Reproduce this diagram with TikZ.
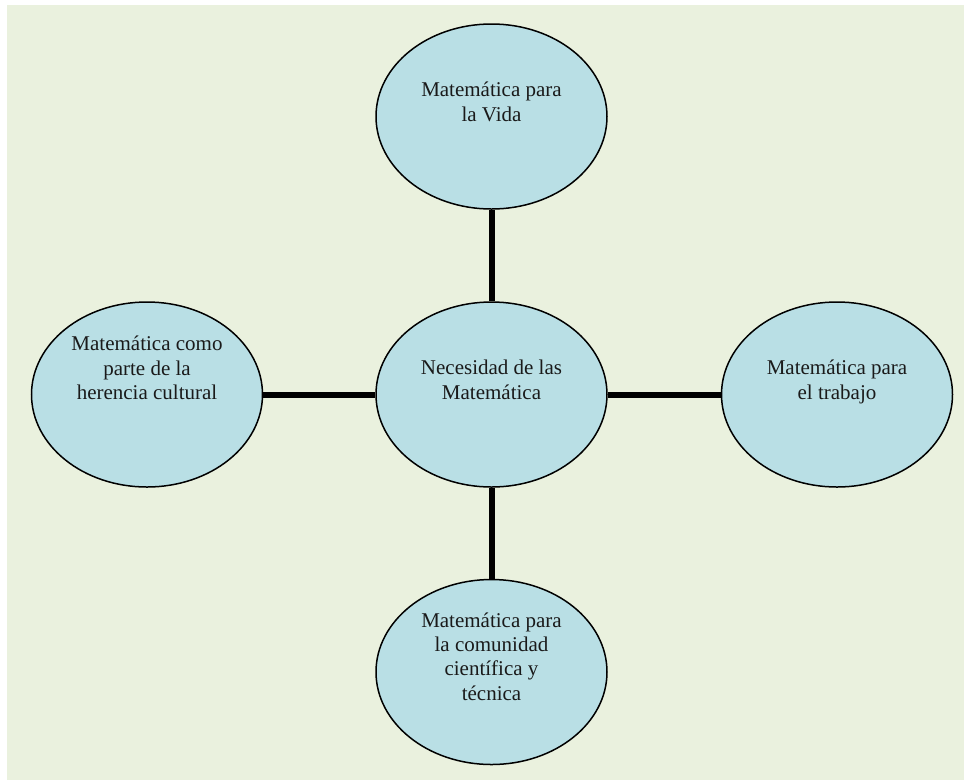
\documentclass[tikz,border=0pt]{standalone}
\usepackage{fontspec}
\setmainfont{Liberation Serif}
\usetikzlibrary{shapes.geometric}
\definecolor{bggreen}{HTML}{EAF1DE}
\definecolor{bubblefill}{HTML}{B9DFE5}
\definecolor{inkdark}{HTML}{1A1A1A}
\begin{document}
\begin{tikzpicture}[x=1pt,y=-1pt,
  bubble/.style={ellipse, draw=black, line width=1.5pt, fill=bubblefill,
    minimum width=231pt, minimum height=185pt, inner sep=0pt},
  % multi-line texts are placed by the baseline of their last line
  bubbletext/.style={font=\fontsize{21}{24.3}\selectfont, text=inkdark,
    align=center, anchor=base, inner sep=0pt},
  link/.style={line width=6pt}]
  % page and background panel
  \useasboundingbox (0,0) rectangle (964,780);
  \fill[white] (0,0) rectangle (964,780);
  \fill[bggreen] (7,5) rectangle (964,780);

  % ellipses
  \node[bubble] (centro)   at (491.5,394.5) {};
  \node[bubble] (vida)     at (491.5,116.5) {};
  \node[bubble] (herencia) at (147,394.5)   {};
  \node[bubble] (trabajo)  at (837,394.5)   {};
  \node[bubble] (ciencia)  at (491.5,672)   {};

  % connectors
  \draw[link] (vida) -- (centro);
  \draw[link] (herencia) -- (centro);
  \draw[link] (centro) -- (trabajo);
  \draw[link] (centro) -- (ciencia);

  % texts
  \node[bubbletext] (centro-t)   at (491.5,399) {Necesidad de las\\Matemática};
  \node[bubbletext] (vida-t)     at (491.5,121) {Matemática para\\la Vida};
  \node[bubbletext] (herencia-t) at (147,399.5) {Matemática como\\parte de la\\herencia cultural};
  \node[bubbletext] (trabajo-t)  at (837,399)   {Matemática para\\el trabajo};
  \node[bubbletext] (ciencia-t)  at (491.5,700) {Matemática para\\la comunidad\\científica y\\técnica};
\end{tikzpicture}
\end{document}
